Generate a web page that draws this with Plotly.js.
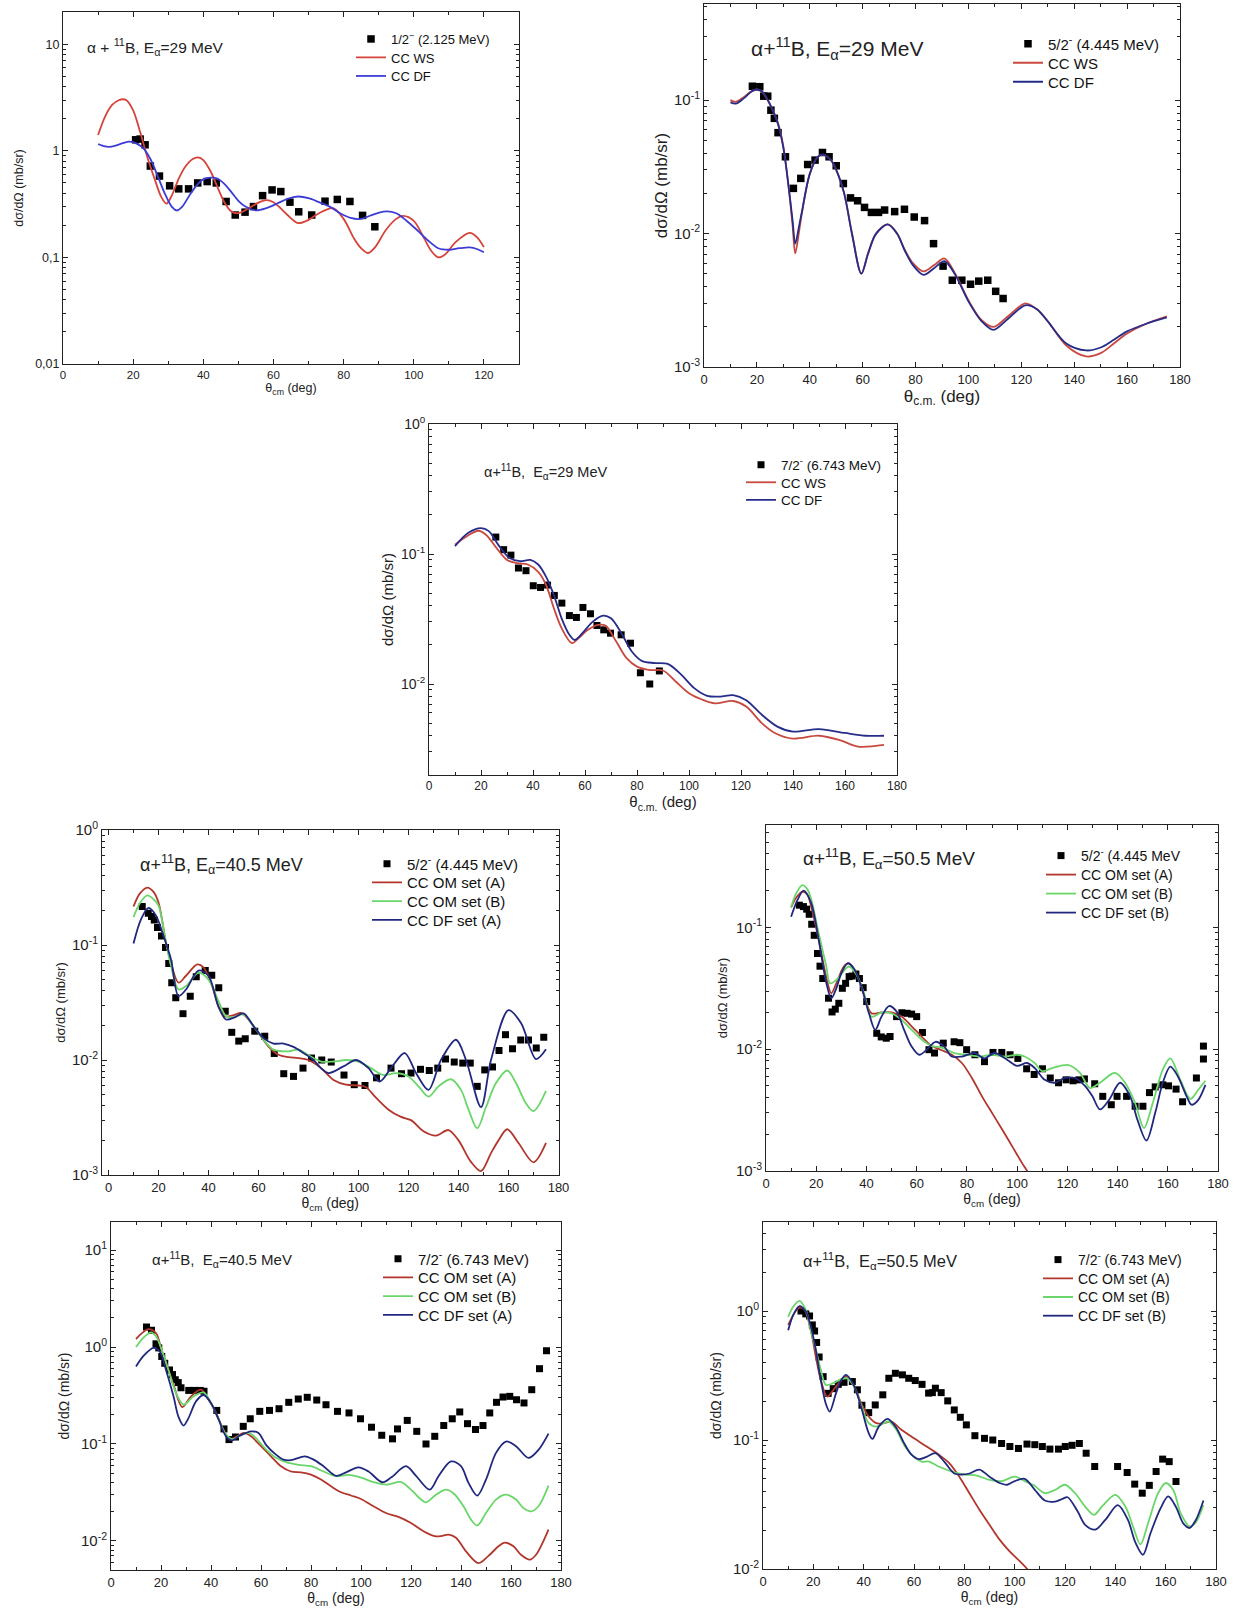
<!DOCTYPE html>
<html><head><meta charset="utf-8">
<script src="https://cdn.plot.ly/plotly-3.0.1.min.js"></script>
<style>html,body{margin:0;padding:0;background:#fff}</style>
</head><body>
<div id="chart" style="width:1235px;height:1616px"></div>
<script>
// ---------- Panel 1: 1/2- (2.125 MeV), E=29 MeV ----------
const p1_exp_theta = [20.7,22.0,23.4,24.9,27.5,30.4,33.0,35.8,38.4,41.1,43.7,46.5,49.1,51.9,54.3,56.9,59.6,62.1,64.7,67.2,70.9,74.7,78.2,81.8,85.4,88.9];
const p1_exp_sig = [1.27,1.29,1.14,0.72,0.58,0.47,0.44,0.44,0.50,0.515,0.50,0.335,0.25,0.266,0.30,0.38,0.43,0.415,0.33,0.268,0.25,0.337,0.35,0.335,0.248,0.194];
const p1_ws_theta = [10,12,14,16,17,18,20,22,24,26,28,29.5,31,33,35,37,38.5,40,42,44,46,48,50,53,56,58,60,62,64,67,70,73,77,80,83,85,87,89,92,95,97,100,103,105,107,109,112,116,118,120];
const p1_ws_sig = [1.41,2.1,2.7,3.0,3.05,3.0,2.4,1.5,0.88,0.56,0.37,0.32,0.38,0.55,0.72,0.84,0.87,0.82,0.65,0.46,0.33,0.27,0.26,0.29,0.33,0.345,0.33,0.29,0.25,0.21,0.225,0.26,0.29,0.23,0.15,0.122,0.11,0.125,0.18,0.23,0.245,0.22,0.15,0.115,0.1,0.107,0.14,0.17,0.155,0.125];
const p1_df_theta = [10,12,13,15,17,19,21,23,25,27,29,31,32.5,34,36,38,40,42,44,46,48,50,52,55,58,61,64,67,70,73,76,79,82,85,88,92,95,98,101,104,107,110,113,116,118,120];
const p1_df_sig = [1.16,1.1,1.09,1.12,1.18,1.22,1.17,1.05,0.83,0.58,0.4,0.3,0.276,0.3,0.38,0.47,0.54,0.56,0.55,0.49,0.41,0.34,0.3,0.276,0.29,0.32,0.355,0.373,0.36,0.33,0.3,0.26,0.235,0.23,0.25,0.27,0.26,0.22,0.18,0.145,0.122,0.118,0.122,0.124,0.12,0.112];

// ---------- Panel 2: 5/2- (4.445 MeV), E=29 MeV ----------
const p2_exp_theta = [18.3,21.1,22.6,24.1,25.3,26.6,28.0,30.8,33.8,36.6,39.2,42.0,44.8,47.3,50.0,52.7,55.4,58.1,60.7,63.3,66.0,68.3,72.1,75.8,79.5,83.4,86.8,90.4,93.9,97.5,100.8,103.9,107.3,110.3,113.1];
const p2_exp_sig = [0.127,0.126,0.107,0.107,0.084,0.073,0.057,0.0376,0.0218,0.0259,0.0329,0.0355,0.0405,0.0376,0.0322,0.0237,0.0185,0.0176,0.0157,0.0144,0.0144,0.015,0.0146,0.0152,0.0133,0.0125,0.0084,0.0057,0.00447,0.00447,0.00417,0.0044,0.00447,0.00369,0.00326];
const p2_theory_theta = [10,12,15,18,20,22,25,28,30,32,33.5,34.5,36,37,40,43,45,48,50,53,56,59.5,62,65,69.5,73,76,79,83,87,91,95,100,105,109.5,115,121.5,126,130,137,144.5,150,155,160,167,175];
const p2_ws_sig = [0.1,0.097,0.105,0.117,0.12,0.115,0.092,0.067,0.045,0.0224,0.0115,0.0071,0.0105,0.0141,0.028,0.0376,0.039,0.0355,0.03,0.02,0.01,0.005,0.0071,0.01,0.0117,0.01,0.0075,0.006,0.0052,0.0058,0.0065,0.005,0.00316,0.00224,0.002,0.0024,0.003,0.0027,0.0022,0.00145,0.0012,0.00127,0.0015,0.00178,0.0021,0.0024];
const p2_df_sig = [0.096,0.094,0.103,0.116,0.12,0.116,0.093,0.066,0.044,0.0224,0.0125,0.0084,0.0115,0.0145,0.028,0.0376,0.039,0.0355,0.03,0.02,0.0098,0.005,0.007,0.0099,0.0117,0.01,0.0074,0.0058,0.0049,0.0055,0.0062,0.0049,0.0031,0.0022,0.0019,0.0023,0.0029,0.0027,0.0022,0.0015,0.00133,0.0014,0.0016,0.00185,0.0021,0.00235];

// ---------- Panel 3: 7/2- (6.743 MeV), E=29 MeV ----------
const p3_exp_theta = [25.7,28.7,31.5,34.4,37.3,40.1,42.9,45.6,48.2,51.1,54.0,56.7,59.2,62.1,64.6,67.2,69.8,73.9,77.5,81.3,84.9,88.6];
const p3_exp_sig = [0.135,0.108,0.098,0.078,0.0744,0.057,0.0553,0.0577,0.048,0.0419,0.0336,0.0325,0.0388,0.0347,0.0282,0.0261,0.0246,0.0239,0.0206,0.0122,0.01,0.0126];
const p3_ws_theta = [10,15,19,22,26,30,34,38,42,45,48,51,55,58,61,65,68,72,76,80,85,90,95,100,105,110,117,122,128,133,140,150,158,165,175];
const p3_ws_sig = [0.118,0.139,0.151,0.14,0.111,0.09,0.085,0.083,0.073,0.058,0.0384,0.0269,0.0206,0.023,0.026,0.0285,0.028,0.0212,0.0158,0.0136,0.0128,0.0127,0.0104,0.0085,0.0076,0.0071,0.0074,0.0067,0.005,0.0042,0.0038,0.004,0.0037,0.0033,0.0034];
const p3_df_theta = [10,15,20,23,27,31,35,39,42,45,48,51,54,56,59,63,67,70,74,78,82,87,92,97,102,107,112,117,122,128,134,140,150,160,168,175];
const p3_df_sig = [0.115,0.145,0.158,0.15,0.115,0.093,0.088,0.09,0.083,0.067,0.0485,0.032,0.0239,0.0218,0.0246,0.0302,0.0336,0.032,0.0246,0.0178,0.015,0.0145,0.0142,0.0118,0.0093,0.0081,0.008,0.0082,0.0075,0.0058,0.0047,0.0043,0.0045,0.0042,0.004,0.004];

// ---------- Panel 4: 5/2- (4.445 MeV), E=40.5 MeV ----------
const p4_exp_theta = [13.5,15.9,17.2,18.3,19.6,21.2,22.8,24.1,25.3,26.9,29.8,32.7,35.1,38.7,41.3,44.1,46.7,49.3,52.1,54.7,58.5,62.5,66.3,70.1,74.0,77.8,81.2,85.3,89.1,94.2,98.3,102.6,107.2,113.0,117.2,121.0,124.8,128.3,131.7,134.8,138.3,141.7,144.7,147.5,150.5,153.6,156.2,158.8,161.6,164.9,168.0,171.1,174.1];
const p4_exp_sig = [0.216,0.189,0.177,0.165,0.142,0.12,0.095,0.069,0.047,0.0347,0.0253,0.0359,0.053,0.060,0.0547,0.0425,0.0265,0.0174,0.0146,0.0153,0.0178,0.0161,0.0114,0.0076,0.0072,0.0085,0.0104,0.01,0.0096,0.0074,0.0061,0.006,0.007,0.0085,0.0076,0.0077,0.0083,0.0081,0.0085,0.0102,0.0096,0.0094,0.0094,0.0059,0.0082,0.0087,0.0121,0.0166,0.0125,0.0149,0.0149,0.0127,0.0158];
const p4_omA_theta = [10,12.5,15.5,18,20,23,25,28,31,35.5,38,41,44,46.5,50,53,56,60,64,68,72,76,80,85,90,95,100,103,107,112,117,121,126,131,136,140,145,149,153,156,159.5,164,170,175];
const p4_omA_sig = [0.216,0.28,0.316,0.29,0.234,0.105,0.07,0.047,0.054,0.0678,0.064,0.047,0.0294,0.024,0.0245,0.0257,0.0225,0.0172,0.0131,0.0111,0.0106,0.0104,0.01,0.0085,0.0067,0.0061,0.006,0.0058,0.0047,0.0037,0.0032,0.003,0.0024,0.0022,0.00246,0.002,0.0013,0.00108,0.00155,0.002,0.0025,0.0019,0.00129,0.0019];
const p4_omB_theta = [10,12.5,15.5,18,20,23,25,28,31,36,40,44,47,50,54,58,62,66,72,76,80,85,90,95,100,105,110,115,120,124,128,132,137,141,144,147.5,151,155,159.5,163,167,170,175];
const p4_omB_sig = [0.175,0.23,0.27,0.25,0.22,0.105,0.066,0.041,0.044,0.0574,0.05,0.0325,0.024,0.0235,0.0249,0.0197,0.015,0.0123,0.0119,0.0123,0.011,0.0097,0.0097,0.01,0.0097,0.0085,0.0074,0.0077,0.0072,0.0059,0.0048,0.0059,0.0068,0.0055,0.0037,0.00255,0.0039,0.0063,0.0081,0.0063,0.0042,0.0036,0.0054];
const p4_dfA_theta = [10,13,16,19,22,25,28,31,36,40,44,47,50.5,54,58,62,66,70,74,78,82,85,88,94,99,104,108.5,113,118.5,123,128,133,139,143,149,153,160,165,171,175];
const p4_dfA_sig = [0.103,0.167,0.21,0.18,0.12,0.075,0.036,0.041,0.06,0.054,0.029,0.0225,0.0235,0.0254,0.0197,0.0155,0.0139,0.0139,0.013,0.0115,0.01,0.0085,0.0077,0.0088,0.01,0.0085,0.0065,0.0085,0.0115,0.0077,0.0055,0.01,0.015,0.01,0.0039,0.01,0.0271,0.021,0.0102,0.0124];

// ---------- Panel 5: 5/2- (4.445 MeV), E=50.5 MeV ----------
const p5_exp_theta = [13.3,14.9,16.2,17.2,18.2,19.2,20.5,21.5,22.6,24.9,26.3,27.6,29.0,30.4,31.7,33.1,34.3,35.8,37.2,38.7,40.1,44.1,45.9,47.9,49.4,52.0,54.1,56.2,58.0,60.0,62.3,64.9,67.1,70.6,74.9,77.2,79.9,83.2,87.0,90.4,93.9,97.2,100.3,103.8,106.8,110.1,113.2,116.5,119.5,122.3,124.6,126.8,130.9,134.1,137.5,139.8,143.6,147.0,150.1,152.7,155.0,158.0,160.3,163.3,165.9,171.4,174.2,174.2];
const p5_exp_sig = [0.152,0.148,0.141,0.128,0.106,0.086,0.061,0.048,0.038,0.0262,0.0202,0.0213,0.0238,0.0316,0.0347,0.0394,0.0398,0.0414,0.038,0.032,0.0246,0.0135,0.0126,0.0123,0.0127,0.0185,0.0199,0.0197,0.0194,0.0185,0.0137,0.0099,0.0093,0.0112,0.0115,0.0113,0.0099,0.009,0.0079,0.0094,0.0094,0.009,0.0084,0.0069,0.0062,0.0069,0.0058,0.0053,0.0056,0.0055,0.0056,0.0057,0.0052,0.0041,0.0035,0.0041,0.0041,0.0034,0.0034,0.0044,0.0049,0.0051,0.005,0.0047,0.0037,0.0058,0.0083,0.0106];
const p5_omA_theta = [10,12,14.5,16.5,18,21,24,26,28,31,33,36,39,42,46,50,54,58,62,66,70,74,78,82,86,90,94,98,102,104,106];
const p5_omA_sig = [0.146,0.175,0.196,0.185,0.148,0.079,0.039,0.0288,0.0347,0.0477,0.0507,0.042,0.0279,0.0197,0.02,0.02,0.0185,0.0154,0.0127,0.0106,0.0098,0.009,0.0077,0.0058,0.0041,0.003,0.0022,0.0016,0.00116,0.001,0.00085];
const p5_omB_theta = [10,12,14.5,16.5,18,21,24,25.5,28,33,36,39,42,46,50,54,58,62,66,70,75,80,85,90,95,100,103,107,110,114,120.5,125,129,133,139,143,147,150.5,154,158,161,165,169,172,175];
const p5_omB_sig = [0.146,0.19,0.222,0.205,0.17,0.089,0.048,0.0347,0.037,0.0477,0.041,0.0288,0.0185,0.02,0.0197,0.0174,0.0144,0.012,0.0106,0.0103,0.0093,0.009,0.0087,0.009,0.0087,0.009,0.0087,0.0077,0.0066,0.007,0.0074,0.0064,0.0048,0.0053,0.0064,0.0053,0.0036,0.00225,0.0036,0.0068,0.0084,0.0056,0.0039,0.0046,0.0055];
const p5_dfB_theta = [10,12.5,15,18,21,24,26,28,30,32.5,35,38,41,43.5,46,49,52,55,58,61,64,67.5,71,74,78,83,87,91,96,100,104,107,111,115,119,123,127,130,133,136.5,141,145,148,151.5,155,158,161,164,167.5,169.5,172,175];
const p5_dfB_sig = [0.122,0.167,0.2,0.158,0.079,0.035,0.0262,0.0316,0.042,0.0507,0.046,0.0326,0.0197,0.0144,0.0185,0.0226,0.0204,0.0144,0.0105,0.009,0.0099,0.0115,0.0105,0.0087,0.0087,0.0093,0.0084,0.0093,0.0082,0.0073,0.0077,0.007,0.0056,0.0053,0.0058,0.0058,0.005,0.0041,0.0032,0.0038,0.0053,0.0041,0.0026,0.00178,0.003,0.0053,0.0072,0.006,0.0041,0.0035,0.0038,0.0051];

// ---------- Panel 6: 7/2- (6.743 MeV), E=40.5 MeV ----------
const p6_exp_theta = [14.2,16.2,18.0,19.1,20.3,21.5,23.4,24.6,25.7,26.9,28.0,31.1,33.4,35.7,37.2,42.3,45.2,47.2,49.8,52.9,55.7,59.5,63.4,67.2,71.1,74.9,78.5,82.3,86.0,90.6,95.2,99.8,104.2,108.3,112.6,114.6,118.5,122.3,126.0,129.5,133.1,136.5,139.5,142.6,145.8,148.8,151.5,154.2,156.8,159.5,162.2,165.2,168.3,171.4,174.2];
const p6_exp_sig = [1.61,1.49,1.08,0.98,0.80,0.68,0.58,0.52,0.46,0.43,0.38,0.357,0.357,0.357,0.35,0.222,0.143,0.111,0.118,0.152,0.182,0.217,0.222,0.231,0.269,0.291,0.303,0.284,0.254,0.217,0.209,0.182,0.149,0.123,0.113,0.143,0.175,0.135,0.1,0.12,0.155,0.182,0.214,0.162,0.141,0.155,0.209,0.269,0.305,0.31,0.286,0.265,0.363,0.598,0.916];
const p6_omA_theta = [10,12.5,15,18,20,22,25,28.5,32,36,39,42,45,47.5,50,53,56,60,64,68,72,76,80,84,88,92,96,100,105,110,115,120,125,129.5,132,135,138,142,147,151,155,157.5,161,164,167.5,170,175];
const p6_omA_sig = [1.21,1.4,1.53,1.39,0.98,0.68,0.41,0.24,0.31,0.363,0.287,0.209,0.14,0.112,0.118,0.13,0.12,0.095,0.0746,0.059,0.052,0.051,0.0483,0.043,0.0366,0.0318,0.0294,0.0271,0.0228,0.0194,0.0177,0.0153,0.0126,0.0112,0.0112,0.0116,0.0108,0.0078,0.0059,0.007,0.0088,0.0096,0.0088,0.0072,0.0064,0.0072,0.0131];
const p6_omB_theta = [10,13,16,18,20,23,26,29,33,37,40,43,46,48.5,51,55,58,62,66,70,75,80,85,90,95,100,105,110,116,120,124,126,130,134,137,141,144,146.5,150,154,158,162,165,168,171,175];
const p6_omB_sig = [1.0,1.25,1.42,1.29,0.98,0.58,0.335,0.254,0.31,0.34,0.265,0.18,0.125,0.112,0.12,0.13,0.115,0.088,0.072,0.065,0.061,0.059,0.052,0.0465,0.048,0.045,0.0405,0.038,0.0405,0.0338,0.0267,0.025,0.03,0.0338,0.031,0.0228,0.0166,0.0144,0.0194,0.0267,0.03,0.0267,0.0218,0.0202,0.0228,0.0372];
const p6_dfA_theta = [10,13,17,19.5,22,25,27,29,31,34,37,40,43,46,48.5,51,54,56,59,62,66,69,72,77.5,81,85,90,94,99,103,108.5,112,118,122,127.5,131,136,140,143,146.5,150,154,158,162,167,171,175];
const p6_dfA_sig = [0.63,0.81,0.98,0.9,0.58,0.31,0.19,0.155,0.185,0.275,0.32,0.265,0.18,0.12,0.109,0.12,0.13,0.135,0.13,0.098,0.0776,0.069,0.068,0.0746,0.069,0.059,0.047,0.051,0.0574,0.052,0.0403,0.045,0.059,0.047,0.0338,0.0465,0.066,0.059,0.0397,0.0293,0.043,0.081,0.106,0.095,0.0718,0.087,0.128];

// ---------- Panel 7: 7/2- (6.743 MeV), E=50.5 MeV ----------
const p7_exp_theta = [15.1,17.0,18.5,19.6,20.5,21.3,22.3,23.9,25.9,27.9,29.9,32.2,35.5,37.5,39.3,42.0,44.6,47.6,50.0,52.6,55.4,57.9,60.5,63.2,65.8,67.3,68.5,70.8,73.4,76.0,78.4,80.8,84.2,88.0,91.3,94.8,98.1,101.5,104.9,108.0,111.0,114.0,117.4,120.1,122.8,125.7,128.4,131.8,140.9,144.7,147.7,150.7,153.5,156.2,158.8,161.4,164.1];
const p7_exp_sig = [1.0,0.95,0.915,0.78,0.70,0.57,0.44,0.31,0.23,0.25,0.27,0.28,0.284,0.245,0.186,0.163,0.187,0.224,0.301,0.329,0.32,0.301,0.289,0.27,0.231,0.233,0.252,0.233,0.201,0.171,0.15,0.131,0.108,0.103,0.1,0.094,0.089,0.086,0.093,0.092,0.089,0.085,0.085,0.089,0.091,0.094,0.079,0.0623,0.0623,0.056,0.0455,0.0387,0.0445,0.057,0.0711,0.068,0.0477];
const p7_omA_theta = [10,13,14.5,16.5,19,21,23,25.5,28,31,33,36,39,42,45,48,51,55,60,65,70,74,78,82,86,90,94,98,102,105,107];
const p7_omA_sig = [0.78,1.0,1.06,1.02,0.71,0.44,0.29,0.217,0.245,0.29,0.31,0.268,0.193,0.152,0.135,0.135,0.139,0.12,0.103,0.089,0.0766,0.0662,0.052,0.0387,0.0288,0.022,0.0169,0.0137,0.0115,0.01,0.009];
const p7_omB_theta = [10,12,14.5,17,19,21,23,25,28,31,33.5,36,39,42,45,48,50,53,56,60,63,66,70,75,80,85,90,95,100,104,108,112,116,120,124,128,131.5,135,140,144,147,150,153,157,160,163,166,169.5,172,175];
const p7_omB_sig = [0.9,1.08,1.2,1.02,0.71,0.5,0.35,0.267,0.276,0.296,0.3,0.263,0.187,0.135,0.127,0.135,0.139,0.12,0.092,0.074,0.068,0.068,0.062,0.057,0.054,0.053,0.049,0.048,0.052,0.048,0.044,0.0387,0.041,0.045,0.0387,0.0305,0.0263,0.031,0.0376,0.0305,0.0214,0.0155,0.0226,0.0387,0.0464,0.041,0.027,0.0214,0.023,0.0313];
const p7_dfB_theta = [10,12,14.5,17,19,21,23,25,26.5,29,31,33,36,39,42,43.5,46,49.5,53,56,59,62,65,68.5,72,76,79,82,86,90,94,97,100,104,108,112,116,119,121,125,128,132,136,141,145,148,151,154,158,161,164,167,169.5,172,175];
const p7_dfB_sig = [0.71,0.93,1.09,0.99,0.76,0.5,0.29,0.19,0.166,0.23,0.29,0.32,0.268,0.18,0.113,0.102,0.127,0.146,0.124,0.095,0.077,0.071,0.074,0.079,0.068,0.055,0.054,0.055,0.059,0.052,0.0464,0.045,0.048,0.05,0.0411,0.034,0.0333,0.035,0.036,0.028,0.022,0.0202,0.024,0.0313,0.024,0.016,0.0129,0.019,0.0296,0.0365,0.0305,0.0226,0.0208,0.024,0.034];

// ---------- labels ----------
const reactionLabels = [
  'α + <sup>11</sup>B, E<sub>α</sub>=29 MeV',
  'α+<sup>11</sup>B, E<sub>α</sub>=29 MeV',
  'α+<sup>11</sup>B,\u00a0 E<sub>α</sub>=29 MeV',
  'α+<sup>11</sup>B, E<sub>α</sub>=40.5 MeV',
  'α+<sup>11</sup>B, E<sub>α</sub>=50.5 MeV',
  'α+<sup>11</sup>B,\u00a0 E<sub>α</sub>=40.5 MeV',
  'α+<sup>11</sup>B,\u00a0 E<sub>α</sub>=50.5 MeV'
];
const expNames = ['1/2<sup>−</sup> (2.125 MeV)','5/2<sup>-</sup> (4.445 MeV)','7/2<sup>-</sup> (6.743 MeV)','5/2<sup>-</sup> (4.445 MeV)','5/2<sup>-</sup> (4.445 MeV','7/2<sup>-</sup> (6.743 MeV)','7/2<sup>-</sup> (6.743 MeV)'];
const yTickVals1 = [0.01,0.1,1,10];
const yTickText1 = ['0,01','0,1','1','10'];

// ---------- drawing ----------
const W = 1235, H = 1616;
const FONT = 'Liberation Sans, Arial, Helvetica, sans-serif';
const traces = [];
const layout = {
  width: W, height: H, margin: {l:0, r:0, t:0, b:0},
  paper_bgcolor: '#fff', plot_bgcolor: '#fff',
  showlegend: true, annotations: [], hovermode: false,
  font: {family: FONT, color: '#111'}
};
const RED1='#d6433a', BLUE1='#3d3dd6', RED2='#c9483f', NAVY='#262c8a', RED3='#b3362c', GREEN='#6ad66a', NAVY3='#20287e';

function pow10text(v){ const e = Math.round(Math.log10(v)); return '10<sup>' + (e<0?'-':'') + Math.abs(e) + '</sup>'; }
function minorLog(lo, hi){ const out=[]; for(let d=Math.floor(lo); d<=Math.ceil(hi); d++){ for(let k=2;k<=9;k++){ const v=k*Math.pow(10,d); const l=Math.log10(v); if(l>lo && l<hi) out.push(v);} } return out; }

// panel geometry (pixel boxes: left, right, top, bottom); legend: [text x, first item y, item step, font]
const panels = [
  {box:[63,519,12,364], xr:[0,130], yr:[-2,1.303], yv:yTickVals1, yt:yTickText1, tf:11.5, ytf:12.5, tt:12.5, xt:'θ<sub>cm</sub> (deg)', xts:12.5, ystand:8, xstand:3,
   ann:[85,47,15.5], leg:[392,39,18.5,13], ms:7.5,
   series:[['exp',p1_exp_theta,p1_exp_sig],['CC WS',p1_ws_theta,p1_ws_sig,RED1],['CC DF',p1_df_theta,p1_df_sig,BLUE1]]},
  {box:[704,1180,4,367], xr:[0,180], yr:[-3,-0.28], yv:[0.001,0.01,0.1], tf:13, ytf:15, tt:17, xt:'θ<sub>c.m.</sub> (deg)', xts:17, ystand:2, xstand:2,
   ann:[749,48,21], leg:[1049,44,19,15], ms:7.5,
   series:[['exp',p2_exp_theta,p2_exp_sig],['CC WS',p2_theory_theta,p2_ws_sig,RED2],['CC DF',p2_theory_theta,p2_df_sig,NAVY]]},
  {box:[429,897,424,775], xr:[0,180], yr:[-2.7,0], yv:[0.01,0.1,1], tf:12, ytf:14, tt:15, xt:'θ<sub>c.m.</sub> (deg)', xts:15, ystand:3, xstand:2,
   ann:[482,472,14.5], leg:[782,465,17.5,13.5], ms:7,
   series:[['exp',p3_exp_theta,p3_exp_sig],['CC WS',p3_ws_theta,p3_ws_sig,RED2],['CC DF',p3_df_theta,p3_df_sig,NAVY]]},
  {box:[102,558.5,830,1175], xr:[-2.6,180], yr:[-3,0], yv:[0.001,0.01,0.1,1], tf:13, ytf:15, tt:13, xt:'θ<sub>cm</sub> (deg)', xts:14, ystand:3, xstand:2,
   ann:[138,864,18], leg:[408,864,18.7,15], ms:7,
   series:[['exp',p4_exp_theta,p4_exp_sig],['CC OM set (A)',p4_omA_theta,p4_omA_sig,RED3],['CC OM set (B)',p4_omB_theta,p4_omB_sig,GREEN],['CC DF set (A)',p4_dfA_theta,p4_dfA_sig,NAVY3]]},
  {box:[766,1218,825,1171], xr:[0,180], yr:[-3,-0.16], yv:[0.001,0.01,0.1], tf:13, ytf:15, tt:13, xt:'θ<sub>cm</sub> (deg)', xts:14, ystand:5, xstand:2,
   ann:[801,858,19], leg:[1082,856,19,14], ms:7,
   series:[['exp',p5_exp_theta,p5_exp_sig],['CC OM set (A)',p5_omA_theta,p5_omA_sig,RED3],['CC OM set (B)',p5_omB_theta,p5_omB_sig,GREEN],['CC DF set (B)',p5_dfB_theta,p5_dfB_sig,NAVY3]]},
  {box:[111,561,1222,1570], xr:[0,180], yr:[-2.3,1.29], yv:[0.01,0.1,1,10], tf:13, ytf:15, tt:14, xt:'θ<sub>cm</sub> (deg)', xts:14, ystand:8, xstand:2,
   ann:[150,1259,15], leg:[419,1259,18.7,15], ms:7,
   series:[['exp',p6_exp_theta,p6_exp_sig],['CC OM set (A)',p6_omA_theta,p6_omA_sig,RED3],['CC OM set (B)',p6_omB_theta,p6_omB_sig,GREEN],['CC DF set (A)',p6_dfA_theta,p6_dfA_sig,NAVY3]]},
  {box:[763,1216,1222,1569], xr:[0,180], yr:[-2,0.69], yv:[0.01,0.1,1], tf:13, ytf:15, tt:14, xt:'θ<sub>cm</sub> (deg)', xts:14, ystand:8, xstand:2,
   ann:[801,1261,16.5], leg:[1079,1260,18.7,14], ms:7,
   series:[['exp',p7_exp_theta,p7_exp_sig],['CC OM set (A)',p7_omA_theta,p7_omA_sig,RED3],['CC OM set (B)',p7_omB_theta,p7_omB_sig,GREEN],['CC DF set (B)',p7_dfB_theta,p7_dfB_sig,NAVY3]]}
];

let legCount = 0;
panels.forEach((p, i) => {
  const n = i + 1;
  const xa = n === 1 ? 'x' : 'x' + n, ya = n === 1 ? 'y' : 'y' + n;
  const xk = n === 1 ? 'xaxis' : 'xaxis' + n, yk = n === 1 ? 'yaxis' : 'yaxis' + n;
  const [l, r, t, b] = p.box;
  layout[xk] = {
    domain: [l / W, r / W], range: p.xr, anchor: ya,
    tickmode: 'linear', tick0: 0, dtick: 20, ticks: 'inside', ticklen: 5, tickwidth: 1, tickcolor: '#222',
    minor: {dtick: 10, tick0: 0, ticks: 'inside', ticklen: 3, tickcolor: '#222'},
    showline: true, linecolor: '#222', linewidth: 1, mirror: 'allticks', showgrid: false, zeroline: false,
    tickfont: {family: FONT, size: p.tf, color: '#222'},
    title: {text: p.xt, font: {family: FONT, size: p.xts, color: '#222'}, standoff: p.xstand}
  };
  layout[yk] = {
    domain: [1 - b / H, 1 - t / H], range: p.yr, type: 'log', anchor: xa,
    tickmode: 'array', tickvals: p.yv, ticktext: p.yt || p.yv.map(pow10text),
    ticks: 'inside', ticklen: 5, tickwidth: 1, tickcolor: '#222',
    minor: {tickvals: minorLog(p.yr[0], p.yr[1]), ticks: 'inside', ticklen: 3, tickcolor: '#222'},
    showline: true, linecolor: '#222', linewidth: 1, mirror: 'allticks', showgrid: false, zeroline: false,
    tickfont: {family: FONT, size: p.ytf, color: '#222'},
    title: {text: 'dσ/dΩ (mb/sr)', font: {family: FONT, size: p.tt, color: '#222'}, standoff: p.ystand}
  };
  p.series.forEach((s, k) => {
    legCount += 1;
    const lk = legCount === 1 ? 'legend' : 'legend' + legCount;
    layout[lk] = {
      x: (p.leg[0] - 41) / W, y: 1 - (p.leg[1] + k * p.leg[2]) / H, xanchor: 'left', yanchor: 'middle',
      bgcolor: 'rgba(0,0,0,0)', borderwidth: 0, itemwidth: 30,
      font: {family: FONT, size: p.leg[3], color: '#111'}
    };
    if (k === 0) {
      traces.push({type: 'scatter', mode: 'markers', x: s[1], y: s[2], xaxis: xa, yaxis: ya, legend: lk,
        name: expNames[i], marker: {symbol: 'square', size: p.ms, color: '#000'}});
    } else {
      traces.push({type: 'scatter', mode: 'lines', x: s[1], y: s[2], xaxis: xa, yaxis: ya, legend: lk,
        name: s[0], line: {color: s[3], width: 1.8, shape: 'spline', smoothing: 0.9}});
    }
  });
  layout.annotations.push({
    xref: 'paper', yref: 'paper', x: p.ann[0] / W, y: 1 - p.ann[1] / H, xanchor: 'left', yanchor: 'middle',
    text: reactionLabels[i], showarrow: false, font: {family: FONT, size: p.ann[2], color: '#222'}
  });
});

Plotly.newPlot('chart', traces, layout, {displayModeBar: false, staticPlot: true});
</script>
</body></html>
